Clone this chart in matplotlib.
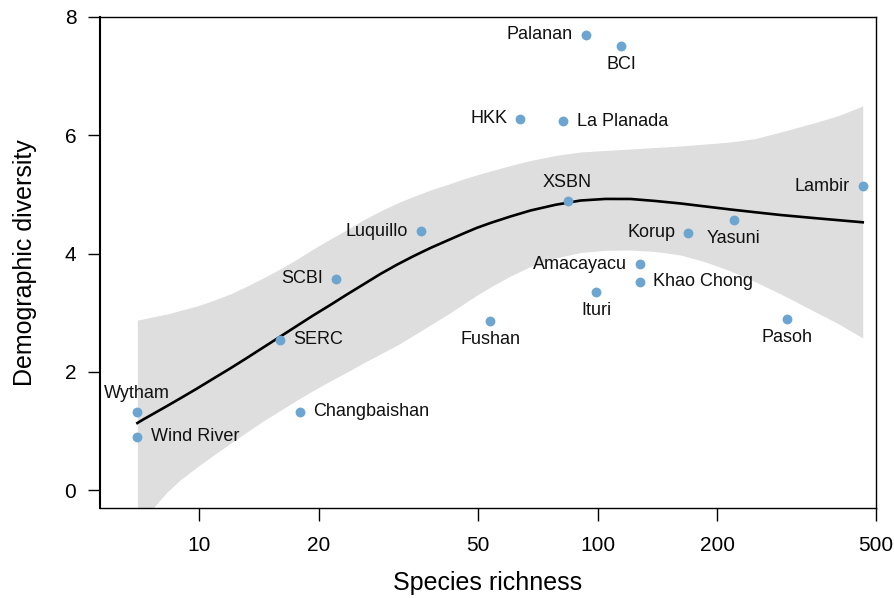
import numpy as np
import matplotlib
matplotlib.use("Agg")
import matplotlib.pyplot as plt

plt.rcParams['font.family'] = ['Liberation Sans', 'DejaVu Sans']

# values
sites = ["Wytham", "Wind River", "SERC", "Changbaishan", "SCBI", "Luquillo",
         "Fushan", "HKK", "La Planada", "Palanan", "BCI", "XSBN", "Ituri",
         "Amacayacu", "Khao Chong", "Korup", "Yasuni", "Lambir", "Pasoh"]
richness = [7.0, 7.0, 16.0, 17.9, 22.1, 36.1, 53.8, 64.0, 82.1, 93.3, 114.8,
            84.1, 99.4, 128.0, 128.0, 169.0, 219.6, 463.0, 298.5]
diversity = [1.32, 0.90, 2.54, 1.32, 3.57, 4.38, 2.86, 6.28, 6.24, 7.70, 7.51,
             4.89, 3.35, 3.82, 3.52, 4.35, 4.57, 5.14, 2.89]
label_side = ["top", "right", "right", "right", "left", "left", "bottom",
              "left", "right", "left", "bottom", "top", "bottom", "left",
              "right", "left", "bottom", "left", "bottom"]

# fitted smooth and its confidence band
smooth_x = [7.0, 7.234, 7.533, 8.31, 8.96, 9.885, 10.84, 11.96, 13.13, 14.48,
            15.98, 17.63, 19.34, 21.34, 23.54, 25.83, 28.50, 31.44, 34.49,
            38.06, 42.00, 46.07, 49.66, 53.85, 60.44, 67.86, 78.44, 90.64,
            104.7, 121.1, 139.9, 161.6, 186.8, 215.9, 249.5, 288.3, 348.9,
            403.3, 463.0]
smooth_fit = [1.133, 1.191, 1.258, 1.421, 1.548, 1.717, 1.881, 2.055, 2.226,
              2.410, 2.594, 2.779, 2.953, 3.129, 3.310, 3.476, 3.653, 3.814,
              3.954, 4.093, 4.220, 4.338, 4.431, 4.516, 4.626, 4.727, 4.824,
              4.896, 4.923, 4.922, 4.888, 4.846, 4.795, 4.744, 4.697, 4.651,
              4.600, 4.563, 4.528]
smooth_hi = [2.875, 2.892, 2.918, 2.977, 3.036, 3.112, 3.205, 3.315, 3.442,
             3.586, 3.738, 3.907, 4.076, 4.245, 4.406, 4.567, 4.719, 4.854,
             4.964, 5.074, 5.167, 5.260, 5.328, 5.395, 5.488, 5.573, 5.658,
             5.717, 5.742, 5.767, 5.793, 5.818, 5.852, 5.886, 5.945, 6.055,
             6.207, 6.334, 6.495]
smooth_lo = [-0.677, -0.524, -0.364, -0.034, 0.169, 0.389, 0.584, 0.786, 0.973,
             1.167, 1.345, 1.522, 1.683, 1.844, 1.996, 2.148, 2.300, 2.452,
             2.613, 2.791, 2.968, 3.146, 3.290, 3.433, 3.619, 3.780, 3.924,
             4.017, 4.054, 4.059, 4.034, 3.975, 3.856, 3.704, 3.518, 3.315,
             3.027, 2.808, 2.571]

x_ticks = [10, 20, 50, 100, 200, 500]
y_ticks = [0, 2, 4, 6, 8]

fig = plt.figure(figsize=(8.95, 5.98), dpi=100)
ax = fig.add_axes([0.1117, 0.1505, 0.8671, 0.8211])

ax.fill_between(smooth_x, smooth_lo, smooth_hi, color="#dedede", lw=0, zorder=1)
ax.plot(smooth_x, smooth_fit, color="black", lw=1.9, zorder=2,
        solid_joinstyle="round")
ax.scatter(richness, diversity, s=50, color="#6ba5d0", lw=0, zorder=3)

offsets = {"left": (-9.5, 0, "right", "center"),
           "right": (9.5, 0, "left", "center"),
           "top": (0, 7, "center", "bottom"),
           "bottom": (0, -7, "center", "top")}
for name, xv, yv, side in zip(sites, richness, diversity, label_side):
    dx, dy, ha, va = offsets[side]
    ax.annotate(name, (xv, yv), xytext=(dx, dy), textcoords="offset points",
                ha=ha, va=va, fontsize=13, color="#111111")

ax.set_xscale("log")
ax.set_xlim(5.64, 500)
ax.set_ylim(-0.304, 8.0)
ax.set_xticks(x_ticks)
ax.set_xticklabels([str(v) for v in x_ticks])
ax.xaxis.set_minor_locator(matplotlib.ticker.NullLocator())
ax.set_yticks(y_ticks)

ax.tick_params(axis="both", direction="out", length=9, width=1.0,
               labelsize=15, colors="black")
ax.tick_params(axis="x", pad=11)
ax.tick_params(axis="y", pad=8)
for sp in ax.spines.values():
    sp.set_linewidth(1.0)
ax.spines["left"].set_linewidth(1.5)

ax.set_xlabel("Species richness", fontsize=18, labelpad=12)
ax.set_ylabel("Demographic diversity", fontsize=18, labelpad=20)

fig.savefig("out.png", dpi=100)
